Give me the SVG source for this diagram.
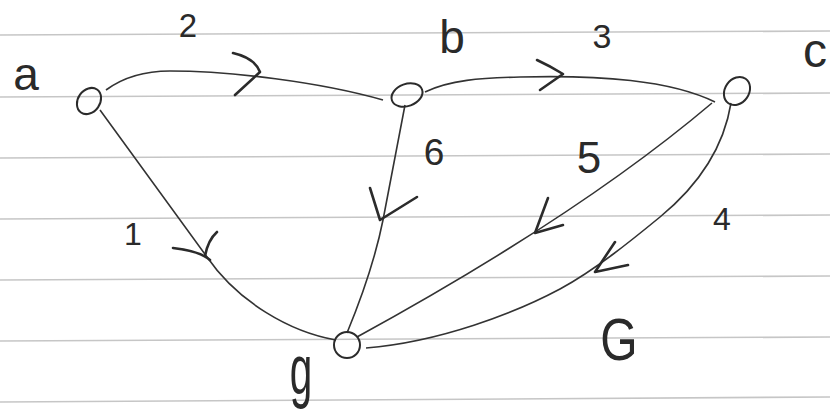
<svg xmlns="http://www.w3.org/2000/svg" width="830" height="417" viewBox="0 0 830 417">
<style>
.rule{stroke:#c6c6c6;stroke-width:1.6;fill:none}
.node{fill:none;stroke:#2b2b2b;stroke-width:2}
.edge{fill:none;stroke:#333;stroke-width:1.6}
.head{fill:none;stroke:#2b2b2b;stroke-width:2.6;stroke-linecap:round;stroke-linejoin:round}
.lbl{font-family:"Liberation Sans",Arial,sans-serif;fill:#2a2a2a;text-anchor:middle}
</style>
<rect width="830" height="417" fill="#ffffff"/>
<g id="paper">
<line class="rule" x1="0" y1="35" x2="830" y2="31"/>
<line class="rule" x1="0" y1="97" x2="830" y2="93"/>
<line class="rule" x1="0" y1="158" x2="830" y2="154"/>
<line class="rule" x1="0" y1="219" x2="830" y2="215"/>
<line class="rule" x1="0" y1="280" x2="830" y2="276"/>
<line class="rule" x1="0" y1="341" x2="830" y2="337"/>
<line class="rule" x1="0" y1="402" x2="830" y2="397"/>
</g>
<g id="connectors">
<g id="e-a-b">
<path class="edge" d="M106,90 C125,76 145,71 170,71 C230,71 320,82 383,100"/>
<path class="head" d="M233,53 Q255,58 260,72 L235,95"/>
<text class="lbl" x="188" y="37" font-size="33">2</text>
</g>
<g id="e-b-c">
<path class="edge" d="M425,92 C450,80 480,78 520,77 C600,75 670,80 715,102"/>
<path class="head" d="M537,60 Q550,66 563,74 L540,90"/>
<text class="lbl" x="602" y="48" font-size="34">3</text>
</g>
<g id="e-a-g">
<path class="edge" d="M100,110 L207,257 C238,302 290,332 336,340"/>
<path class="head" d="M173,248 Q200,251 210,260 M217,232 Q208,240 205,256"/>
<text class="lbl" x="133" y="245" font-size="32">1</text>
</g>
<g id="e-b-g">
<path class="edge" d="M405,105 L383,220 Q373,270 347,333"/>
<path class="head" d="M370,188 L380,220 L417,197"/>
<text class="lbl" x="434" y="165" font-size="37">6</text>
</g>
<g id="e-c-g-5">
<path class="edge" d="M712,103 Q580,215 357,337"/>
<path class="head" d="M548,198 L535,233 L563,225"/>
<text class="lbl" x="589" y="173" font-size="44">5</text>
</g>
<g id="e-c-g-4">
<path class="edge" d="M731,103 C725,140 705,180 660,217 C632,240 595,270 560,289 C515,313 440,342 366,348"/>
<path class="head" d="M615,242 L595,272 L628,265"/>
<text class="lbl" x="722" y="230" font-size="32">4</text>
</g>
</g>
<g id="node-a">
<ellipse class="node" cx="89" cy="101" rx="14" ry="11" transform="rotate(-55 89 101)"/>
<text class="lbl" x="26" y="90" font-size="46">a</text>
</g>
<g id="node-b">
<ellipse class="node" cx="407" cy="95" rx="16" ry="11" transform="rotate(-20 407 95)"/>
<text class="lbl" x="452" y="53" font-size="46">b</text>
</g>
<g id="node-c">
<ellipse class="node" cx="737" cy="91" rx="15" ry="12" transform="rotate(-55 737 91)"/>
<text class="lbl" x="815" y="67" font-size="48">c</text>
</g>
<g id="node-g">
<circle class="node" cx="347" cy="345" r="13"/>
<text class="lbl" transform="translate(301,394) scale(0.75,1.3)" font-size="54">g</text>
</g>
<g id="graph-label">
<text class="lbl" transform="translate(619,360) scale(0.8,1)" font-size="60">G</text>
</g>
</svg>
